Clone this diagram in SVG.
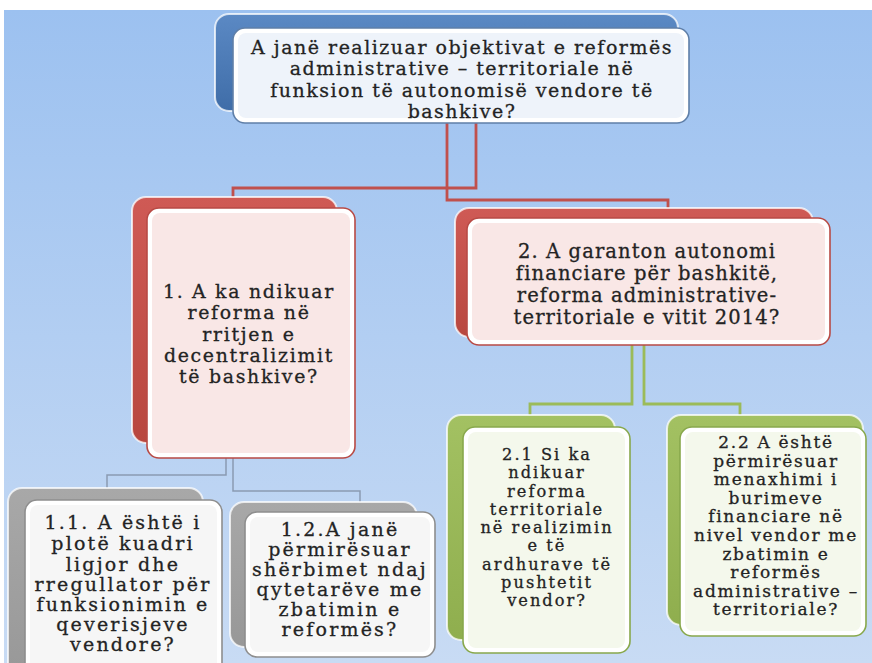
<svg xmlns="http://www.w3.org/2000/svg" width="872" height="663" viewBox="0 0 872 663">
<defs>
<linearGradient id="gBg" x1="0" y1="0" x2="0" y2="1">
<stop offset="0" stop-color="#9cc1f0"/><stop offset="1" stop-color="#c8dbf4"/>
</linearGradient>
<linearGradient id="gBlue" x1="0" y1="0" x2="0" y2="1">
<stop offset="0" stop-color="#5b89c4"/><stop offset="1" stop-color="#3f6da8"/>
</linearGradient>
<linearGradient id="gRed" x1="0" y1="0" x2="0" y2="1">
<stop offset="0" stop-color="#cf5a55"/><stop offset="1" stop-color="#b8473f"/>
</linearGradient>
<linearGradient id="gGray" x1="0" y1="0" x2="0" y2="1">
<stop offset="0" stop-color="#a8a8a8"/><stop offset="1" stop-color="#989898"/>
</linearGradient>
<linearGradient id="gGreen" x1="0" y1="0" x2="0" y2="1">
<stop offset="0" stop-color="#a3c162"/><stop offset="1" stop-color="#8fae4e"/>
</linearGradient>
<style>
.bk{stroke:#fff;stroke-width:2;stroke-opacity:.75}
.bk-blue{fill:url(#gBlue)}
.bk-red{fill:url(#gRed)}
.bk-gray{fill:url(#gGray)}
.bk-green{fill:url(#gGreen)}
.fo{fill:#fff;stroke-width:1.6}
.fo-blue{stroke:#5f7fa8}
.fo-red{stroke:#b84a45}
.fo-gray{stroke:#8e8e8e}
.fo-green{stroke:#88a84c}
.fi-blue{fill:#eef3fa}
.fi-red{fill:#f9e7e6}
.fi-gray{fill:#f6f6f6}
.fi-green{fill:#f4f8ec}
text{font-family:"DejaVu Serif","Liberation Serif",serif;fill:#232323;stroke:#232323;stroke-width:.3;text-anchor:middle}
.t-top{font-size:19px;letter-spacing:1.5px}
.t-l1{font-size:18.9px;letter-spacing:1.7px}
.t-r2{font-size:19.5px;letter-spacing:1.1px}
.t-sm{font-size:17px;letter-spacing:1.7px}
.t-sm21{font-size:16.2px;letter-spacing:2px}
.t-gr{font-size:19px;letter-spacing:2.2px}
.c-red{fill:none;stroke:#c0504d;stroke-width:2.8}
.c-green{fill:none;stroke:#9bbb59;stroke-width:2.8}
.c-gray{fill:none;stroke:#8a9bb2;stroke-width:1.5}
</style>
</defs>
<rect width="872" height="663" fill="#fff"/>
<rect x="4" y="10" width="868" height="653" fill="url(#gBg)"/>

<g id="connectors">
<path class="c-red" d="M476,123 V188 H233 V198"/>
<path class="c-red" d="M447,123 V200 H668 V209"/>
<path class="c-green" d="M632,345 V404 H530 V416"/>
<path class="c-green" d="M644,345 V404 H740 V416"/>
<path class="c-gray" d="M226,458 V475 H107 V490"/>
<path class="c-gray" d="M233,458 V491 H360 V504"/>
</g>

<g id="node-top">
<rect class="bk bk-blue" x="215" y="14" width="463" height="97" rx="14"/>
<rect class="fo fo-blue" x="233" y="28" width="456" height="95" rx="12"/>
<rect class="fi-blue" x="238" y="33" width="446" height="85" rx="8"/>
<text class="t-top"><tspan x="462" y="53.5">A janë realizuar objektivat e reformës</tspan><tspan x="462" y="75">administrative – territoriale në</tspan><tspan x="462" y="96.5">funksion të autonomisë vendore të</tspan><tspan x="462" y="118">bashkive?</tspan></text>
</g>

<g id="node-1">
<rect class="bk bk-red" x="132" y="197" width="205" height="246" rx="14"/>
<rect class="fo fo-red" x="147" y="208" width="208" height="250" rx="12"/>
<rect class="fi-red" x="152" y="213" width="198" height="240" rx="8"/>
<text class="t-l1"><tspan x="249" y="298">1. A ka ndikuar</tspan><tspan x="249" y="319.3">reforma në</tspan><tspan x="249" y="340.6">rritjen e</tspan><tspan x="249" y="362">decentralizimit</tspan><tspan x="249" y="383.3">të bashkive?</tspan></text>
</g>

<g id="node-2">
<rect class="bk bk-red" x="455" y="208" width="358" height="129" rx="14"/>
<rect class="fo fo-red" x="467" y="218" width="363" height="127" rx="12"/>
<rect class="fi-red" x="472" y="223" width="353" height="117" rx="8"/>
<text class="t-r2"><tspan x="647" y="258">2. A garanton autonomi</tspan><tspan x="647" y="280">financiare për bashkitë,</tspan><tspan x="647" y="302">reforma administrative-</tspan><tspan x="647" y="324">territoriale e vitit 2014?</tspan></text>
</g>

<g id="node-1-1">
<rect class="bk bk-gray" x="8" y="488" width="195" height="190" rx="14"/>
<rect class="fo fo-gray" x="25" y="500" width="197" height="180" rx="12"/>
<rect class="fi-gray" x="30" y="505" width="187" height="170" rx="8"/>
<text class="t-gr"><tspan x="123" y="529">1.1. A është i</tspan><tspan x="123" y="550">plotë kuadri</tspan><tspan x="123" y="570.5">ligjor dhe</tspan><tspan x="123" y="591">rregullator për</tspan><tspan x="123" y="611">funksionimin e</tspan><tspan x="123" y="631">qeverisjeve</tspan><tspan x="123" y="651">vendore?</tspan></text>
</g>

<g id="node-1-2">
<rect class="bk bk-gray" x="230" y="502" width="187" height="145" rx="14"/>
<rect class="fo fo-gray" x="245" y="512" width="190" height="145" rx="12"/>
<rect class="fi-gray" x="250" y="517" width="180" height="135" rx="8"/>
<text class="t-gr"><tspan x="340" y="536">1.2.A janë</tspan><tspan x="340" y="556">përmirësuar</tspan><tspan x="340" y="576">shërbimet ndaj</tspan><tspan x="340" y="596">qytetarëve me</tspan><tspan x="340" y="616">zbatimin e</tspan><tspan x="340" y="636">reformës?</tspan></text>
</g>

<g id="node-2-1">
<rect class="bk bk-green" x="447" y="415" width="168" height="225" rx="14"/>
<rect class="fo fo-green" x="463" y="427" width="167" height="226" rx="12"/>
<rect class="fi-green" x="468" y="432" width="157" height="216" rx="8"/>
<text class="t-sm21"><tspan x="547" y="460">2.1 Si ka</tspan><tspan x="547" y="478.25">ndikuar</tspan><tspan x="547" y="496.5">reforma</tspan><tspan x="547" y="514.75">territoriale</tspan><tspan x="547" y="533">në realizimin</tspan><tspan x="547" y="551.25">e të</tspan><tspan x="547" y="569.5">ardhurave të</tspan><tspan x="547" y="587.75">pushtetit</tspan><tspan x="547" y="606">vendor?</tspan></text>
</g>

<g id="node-2-2">
<rect class="bk bk-green" x="667" y="415" width="196" height="210" rx="14"/>
<rect class="fo fo-green" x="680" y="427" width="186" height="209" rx="12"/>
<rect class="fi-green" x="685" y="432" width="176" height="199" rx="8"/>
<text class="t-sm"><tspan x="776" y="448">2.2 A është</tspan><tspan x="776" y="466.5">përmirësuar</tspan><tspan x="776" y="485">menaxhimi i</tspan><tspan x="776" y="503.5">burimeve</tspan><tspan x="776" y="522">financiare në</tspan><tspan x="776" y="541">nivel vendor me</tspan><tspan x="776" y="559.5">zbatimin e</tspan><tspan x="776" y="578">reformës</tspan><tspan x="776" y="596.5">administrative –</tspan><tspan x="776" y="615">territoriale?</tspan></text>
</g>
</svg>
